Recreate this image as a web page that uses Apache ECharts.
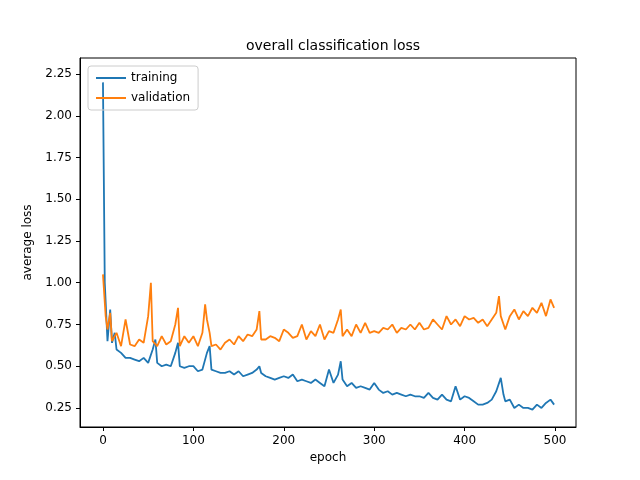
<!DOCTYPE html>
<html><head><meta charset="utf-8">
<script src="https://cdn.jsdelivr.net/npm/echarts@6/dist/echarts.min.js"></script>
<style>html,body{margin:0;padding:0;background:#fff}#c{width:640px;height:480px}</style>
</head><body><div id="c"></div>
<script>
const trainEpochs=[0,2,5,8,10,13,15,20,25,30,35,40,45,50,55,58,60,65,70,75,80,83,85,90,95,100,105,110,115,118,120,125,130,135,140,145,150,155,160,165,170,173,175,180,185,190,195,200,205,210,215,220,225,230,235,240,245,250,255,260,263,265,270,275,280,285,290,295,300,305,310,315,320,325,330,335,340,345,350,355,360,365,370,375,380,385,390,395,400,405,410,415,420,425,430,435,440,443,445,450,455,460,465,470,475,480,485,490,495,499];
const trainLoss=[2.2,1.0,0.65,0.84,0.64,0.7,0.6,0.58,0.55,0.55,0.54,0.53,0.55,0.52,0.6,0.66,0.52,0.5,0.51,0.5,0.58,0.64,0.5,0.49,0.5,0.5,0.47,0.48,0.58,0.62,0.48,0.47,0.46,0.46,0.47,0.45,0.47,0.44,0.45,0.46,0.48,0.5,0.46,0.44,0.43,0.42,0.43,0.44,0.43,0.45,0.41,0.42,0.41,0.40,0.42,0.40,0.38,0.48,0.40,0.45,0.53,0.42,0.38,0.40,0.37,0.38,0.37,0.36,0.40,0.36,0.34,0.35,0.33,0.34,0.33,0.32,0.33,0.32,0.32,0.31,0.34,0.31,0.30,0.33,0.30,0.29,0.38,0.30,0.32,0.31,0.29,0.27,0.27,0.28,0.30,0.35,0.43,0.33,0.29,0.30,0.25,0.27,0.25,0.25,0.24,0.27,0.25,0.28,0.30,0.27];
const valEpochs=[0,3,5,8,10,15,20,25,30,35,40,45,50,53,55,60,65,70,75,80,83,85,90,95,100,105,110,113,115,118,120,125,130,135,140,145,150,155,160,165,170,173,175,180,185,190,195,200,205,210,215,220,225,230,235,240,245,250,255,260,263,265,270,275,280,285,290,295,300,305,310,315,320,325,330,335,340,345,350,355,360,365,370,375,380,385,390,395,400,405,410,415,420,425,430,435,438,440,445,450,455,460,465,470,475,480,485,490,495,499];
const valLoss=[1.05,0.8,0.72,0.82,0.65,0.7,0.62,0.78,0.63,0.62,0.66,0.64,0.8,1.0,0.65,0.62,0.68,0.63,0.65,0.75,0.85,0.62,0.68,0.64,0.68,0.62,0.7,0.87,0.78,0.7,0.62,0.63,0.6,0.64,0.66,0.63,0.68,0.65,0.69,0.68,0.72,0.83,0.66,0.66,0.68,0.67,0.65,0.72,0.70,0.67,0.68,0.75,0.66,0.71,0.68,0.75,0.66,0.71,0.70,0.78,0.84,0.68,0.72,0.68,0.75,0.70,0.76,0.70,0.71,0.70,0.73,0.72,0.75,0.70,0.73,0.72,0.75,0.72,0.76,0.72,0.73,0.78,0.75,0.72,0.80,0.75,0.78,0.74,0.80,0.78,0.79,0.76,0.78,0.74,0.78,0.82,0.92,0.80,0.72,0.80,0.84,0.78,0.83,0.80,0.85,0.82,0.88,0.80,0.90,0.85];
const xTicks=[0,100,200,300,400,500];
const yTicks=[0.25,0.5,0.75,1.0,1.25,1.5,1.75,2.0,2.25];
const pair=(xs,ys)=>xs.map((x,i)=>[x,ys[i]]);
const font='DejaVu Sans';
const chart=echarts.init(document.getElementById('c'));
chart.setOption({
  animation:false,
  title:{text:'overall classification loss',left:328,top:34,textAlign:'center',textStyle:{fontFamily:font,fontSize:14,fontWeight:'normal',color:'#000'}},
  legend:{left:88,top:66,orient:'vertical',itemWidth:30,itemHeight:2,itemGap:8,padding:[6,8,6,8],borderColor:'#ccc',borderWidth:1,borderRadius:3,icon:'rect',textStyle:{fontFamily:font,fontSize:12,color:'#000'},data:['training','validation']},
  grid:{left:80,right:64,top:58,bottom:53},
  xAxis:{type:'value',min:-25.4,max:523.2,
    axisLine:{onZero:false,lineStyle:{color:'#000'}},
    axisTick:{customValues:xTicks,length:4,lineStyle:{color:'#000'}},
    axisLabel:{fontFamily:font,fontSize:12,color:'#000',customValues:xTicks},
    splitLine:{show:false},name:'epoch',nameLocation:'middle',nameGap:22,nameTextStyle:{fontFamily:font,fontSize:12,color:'#000'}},
  yAxis:{type:'value',min:0.136,max:2.346,
    axisLine:{show:true,onZero:false,lineStyle:{color:'#000'}},
    axisTick:{show:true,customValues:yTicks,length:4,lineStyle:{color:'#000'}},
    axisLabel:{fontFamily:font,fontSize:12,color:'#000',customValues:yTicks,formatter:v=>v.toFixed(2)},
    splitLine:{show:false},name:'average loss',nameLocation:'middle',nameGap:46,nameTextStyle:{fontFamily:font,fontSize:12,color:'#000'}},
  series:[
    {name:'training',type:'line',data:pair(trainEpochs,trainLoss),showSymbol:false,lineStyle:{color:'#1f77b4',width:1.8},itemStyle:{color:'#1f77b4'}},
    {name:'validation',type:'line',data:pair(valEpochs,valLoss),showSymbol:false,lineStyle:{color:'#ff7f0e',width:1.8},itemStyle:{color:'#ff7f0e'}}
  ],
  graphic:[{type:'rect',shape:{x:80,y:58,width:496,height:369},style:{fill:'none',stroke:'#000',lineWidth:1},silent:true,z:100}]
});
</script></body></html>
